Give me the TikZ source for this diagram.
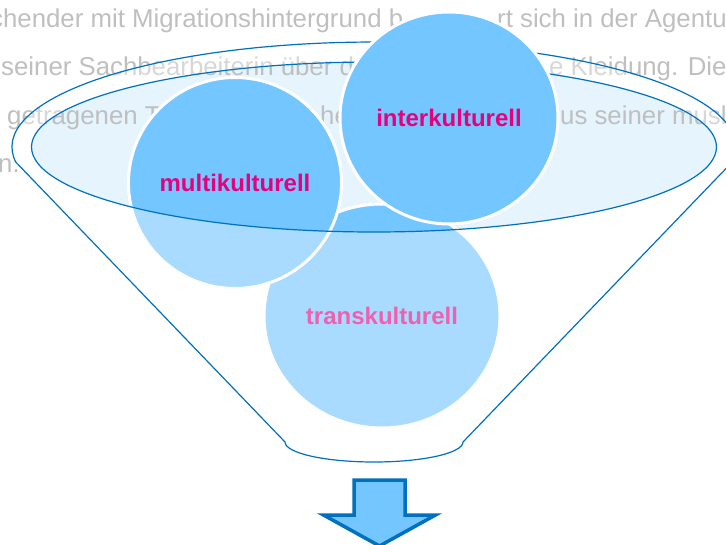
\documentclass[tikz,border=0pt]{standalone}
\usepackage{fontspec}
\setmainfont{Liberation Sans}
\usetikzlibrary{shapes.geometric}
\definecolor{rimblue}{RGB}{0,112,192}
\definecolor{ballblue}{RGB}{115,198,255}
\definecolor{mouthblue}{RGB}{229,244,253}
\definecolor{bodytext}{RGB}{191,191,191}
\definecolor{labelpink}{RGB}{230,0,126}
\begin{document}
\begin{tikzpicture}[x=1pt,y=-1pt,
  bg/.style={anchor=base west, inner sep=0pt, text=bodytext, font=\fontsize{25.8}{31}\selectfont},
  ball/.style={ellipse, fill=ballblue, draw=white, line width=3pt, text=labelpink,
    font=\fontsize{24}{28}\selectfont\bfseries, inner sep=0pt},
  rim/.style={draw=rimblue, line width=1.2pt},
  ]
\useasboundingbox (0,0) rectangle (726,545);
\clip (0,0) rectangle (726,545);

% opening of the funnel
\fill[mouthblue] (374,147) ellipse [x radius=342.5, y radius=85];

% running text behind the funnel
\node[bg] (l1a) at (-10,28) {chender mit Migrationshintergrund b};
\node[bg] (l1b) at (497,28) {rt sich in der Agentur};
\node[bg] (l2a) at (1,76) {seiner Sachbearbeiterin über d};
\node[bg] (l2b) at (549,76) {e Kleidung. Die};
\node[bg] (l3a) at (7,124.5) {getragenen T};
\node[bg] (l3b) at (320,124.5) {he};
\node[bg] (l3c) at (560,124.5) {us seiner musl};
\node[bg] (l4) at (-2,172.5) {n.};

% balls inside the funnel
\node[ball, minimum width=236pt, minimum height=224pt] (trans) at (382,316) {transkulturell};
\node[ball, minimum width=211pt, minimum height=211pt] (multi) at (235,183) {multikulturell};

% translucent funnel body (everything but the opening)
\fill[white, fill opacity=0.38, even odd rule]
  (15.7,162) arc[start angle=171.8, end angle=368.2, x radius=362, y radius=105]
  -- (463,442) arc[start angle=0, end angle=180, x radius=89, y radius=20] -- cycle
  (374,147) ellipse [x radius=342.5, y radius=85];

% funnel outline
\draw[rim]
  (15.7,162) arc[start angle=171.8, end angle=368.2, x radius=362, y radius=105]
  -- (463,442) arc[start angle=0, end angle=180, x radius=89, y radius=20] -- cycle;
\draw[rim] (374,147) ellipse [x radius=342.5, y radius=85];

% ball sitting on the rim
\node[ball, minimum width=218pt, minimum height=212pt] (inter) at (449,118) {interkulturell};

% output arrow
\draw[rimblue, fill=ballblue, line width=3.5pt, line join=miter]
  (354,480) -- (405,480) -- (405,515) -- (435.5,515) -- (379.5,546)
  -- (323.5,515) -- (354,515) -- cycle;
\end{tikzpicture}
\end{document}
